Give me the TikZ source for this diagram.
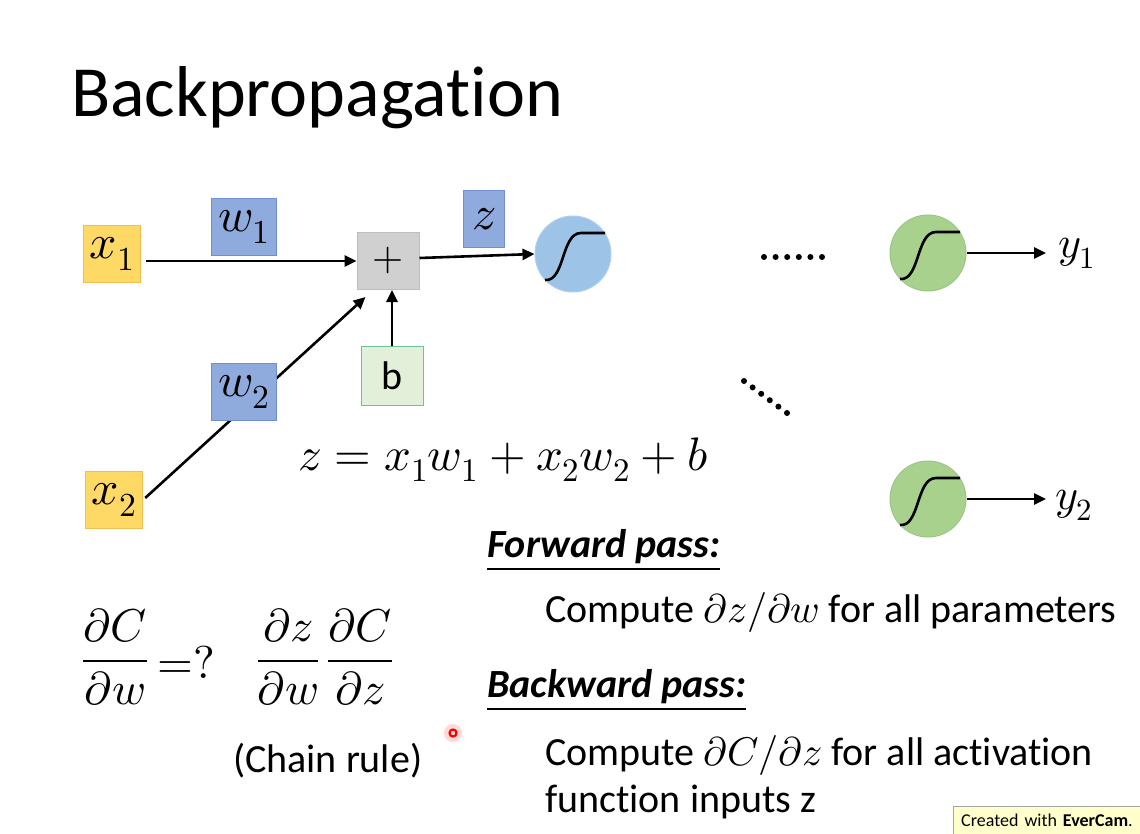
\documentclass[tikz,border=0pt]{standalone}
\usepackage{amsmath}
\usepackage{fontspec}
\usepackage{unicode-math}
\setmainfont{Carlito}[Ligatures={NoCommon,NoContextual,NoRare,NoRequired}]
\setmathfont{Latin Modern Math}
\usetikzlibrary{arrows.meta,positioning,calc}

\definecolor{inyellow}{HTML}{FFD966}
\definecolor{inyellowline}{HTML}{F2BE4E}
\definecolor{wblue}{HTML}{8FAADC}
\definecolor{wblueline}{HTML}{6F8ED4}
\definecolor{sumgray}{HTML}{D0D0D0}
\definecolor{sumgrayline}{HTML}{BEBEBE}
\definecolor{biasgreen}{HTML}{E2F0D9}
\definecolor{biasline}{HTML}{6CC59A}
\definecolor{sigblue}{HTML}{9DC3E6}
\definecolor{sigblueline}{HTML}{B2CFEC}
\definecolor{siggreen}{HTML}{A9D18E}
\definecolor{siggreenline}{HTML}{9CC584}
\definecolor{notebg}{HTML}{FFFFCC}

\newcommand{\ti}{t\kern0pt i}
\newcommand{\sigcurve}[1]{%
  \draw[line width=2.6pt] ([shift={(-28,26)}]#1.center)
    .. controls ([shift={(-8,28)}]#1.center) and ([shift={(-12,-21)}]#1.center) .. ([shift={(8,-21)}]#1.center)
    -- ([shift={(32,-21)}]#1.center);}

\begin{document}
\begin{tikzpicture}[x=1pt, y=-1pt,
  box/.style={rectangle, line width=1pt, inner sep=0pt, minimum height=57pt},
  inbox/.style={box, draw=inyellowline, fill=inyellow, minimum width=57pt, font=\fontsize{48}{58}\selectfont},
  wbox/.style={box, draw=wblueline, fill=wblue, minimum width=65pt, font=\fontsize{48}{58}\selectfont},
  sumbox/.style={box, draw=sumgrayline, fill=sumgray, minimum width=62pt, font=\fontsize{40}{48}\selectfont},
  biasbox/.style={box, draw=biasline, fill=biasgreen, minimum width=62pt, minimum height=59pt, font=\fontsize{40}{48}\selectfont},
  sigb/.style={circle, draw=sigblueline, fill=sigblue, line width=1pt, minimum size=76pt, inner sep=0pt},
  sigg/.style={circle, draw=siggreenline, fill=siggreen, line width=1pt, minimum size=76pt, inner sep=0pt},
  ylab/.style={anchor=west, inner sep=0pt, font=\fontsize{44}{52}\selectfont},
  frac/.style={inner sep=0pt, font=\fontsize{46}{55}\selectfont},
  body/.style={anchor=base west, inner sep=0pt, font=\fontsize{40}{48}\selectfont},
  head/.style={body, font=\fontsize{40}{48}\selectfont\bfseries\itshape},
  arrow/.style={-{Triangle[length=12pt, width=11pt]}, line width=2.6pt}
]
  \useasboundingbox (0,0) rectangle (1140,834);
  \fill[white] (0,0) rectangle (1140,834);

  \node[anchor=base west, inner sep=0pt, font=\fontsize{72}{86}\selectfont] (title) at (71,117) {Backpropaga\ti on};

  \node[inbox] (x1) at (112,254) {$x_1$};
  \node[wbox] (w1) at (244,227) {$w_1$};
  \node[sumbox] (plus) at (388,261) {$+$};
  \node[box, draw=wblueline, fill=wblue, minimum width=41pt, font=\fontsize{48}{58}\selectfont] (z) at (484,219) {$z$};
  \node[sigb] (sig1) at (573,254) {};
  \sigcurve{sig1}
  \node[biasbox] (b) at (392,376) {b};
  \node[inbox] (x2) at (114,500) {$x_2$};

  \draw[arrow, shorten <=5pt] (x1.east |- plus.west) -- (plus.west);
  \draw[arrow] ([yshift=3pt]plus.east) -- (sig1.west);
  \draw[arrow, shorten <=3pt] (x2.east) -- ([shift={(9,7)}]plus.south west);
  \draw[arrow] (b.north) -- (b.north |- plus.south);
  \node[wbox] (w2) at (244,392) {$w_2$};

  \foreach \i in {0,...,5} \fill (764+11.6*\i,257) circle (3pt);
  \foreach \i in {0,...,5} \fill (744+8.6*\i,381+6.4*\i) circle (3pt);

  \node[sigg] (sig2) at (928,253) {};
  \sigcurve{sig2}
  \node[sigg] (sig3) at (928,499) {};
  \sigcurve{sig3}
  \node[ylab] (y1) at (1058,253) {$y_1$};
  \node[ylab] (y2) at (1055,505) {$y_2$};
  \draw[arrow, shorten >=12pt] (sig2.east) -- (sig2.east -| y1.west);
  \draw[arrow, shorten >=9pt] (sig3.east) -- (sig3.east -| y2.west);

  \node[anchor=base west, inner sep=0pt, font=\fontsize{47}{56}\selectfont] (eq) at (298,470) {$z = x_1w_1 + x_2w_2 + b$};

  \node[frac] (dCdw) at (115,657) {$\dfrac{\partial C}{\partial w}$};
  \node[frac] (ask) at (186,662) {$\mathord{=}?$};
  \node[frac] (chain) at (325,657) {$\dfrac{\partial z}{\partial w}\,\dfrac{\partial C}{\partial z}$};
  \node[body] (rule) at (233,772) {(Chain rule)};

  \node[head] (fwd) at (487,557) {\underline{Forward pass:}};
  \node[body] (fwdtxt) at (545,622) {Compute $\partial z/\partial w$ for all parameters};
  \node[head] (bwd) at (487,697) {\underline{Backward pass:}};
  \node[body] (bwdtxt) at (545,765) {Compute $\partial C/\partial z$ for all activa\ti on};
  \node[body] (bwdtxt2) at (545,812) {function inputs z};

  \fill[red!25, opacity=0.6] (453,733) circle (9pt);
  \draw[red, line width=2.2pt] (453,733) circle (3.5pt);

  \node[anchor=north west, draw=gray!70, fill=notebg, text width=172pt, minimum height=32pt,
        text depth=14pt, inner sep=8pt, font=\fontsize{18}{20}\selectfont] (note) at (953,806)
        {Created with \textbf{EverCam}.};
\end{tikzpicture}
\end{document}
